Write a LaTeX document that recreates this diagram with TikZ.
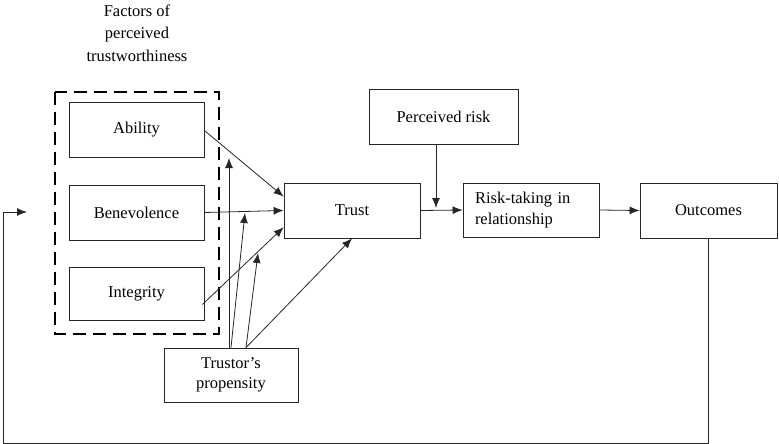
\documentclass[tikz,border=0pt]{standalone}
\usepackage{fontspec}
\setmainfont{Liberation Serif}
\usetikzlibrary{calc,arrows.meta,positioning}

\begin{document}
\begin{tikzpicture}[x=1pt,y=-1pt,
    box/.style={draw=black!85,line width=0.8pt,minimum width=135pt,minimum height=55pt,
      inner sep=2pt,font=\fontsize{16.5}{20.5}\selectfont},
    arr/.style={draw=black!85,line width=0.8pt,-{Latex[length=10pt,width=8pt]}}]
    \useasboundingbox (0,0) rectangle (779,444);
    \node[align=center,font=\fontsize{16.5}{22.5}\selectfont] (title) at (137,33)
      {Factors of\\perceived\\trustworthiness};
    \node[box] (abil) at (136.5,129.5) {Ability};
    \node[box] (benev) at (136.5,212.5) {Benevolence};
    \node[box,minimum height=53pt] (integ) at (136.5,293.5) {Integrity};
    \node[box,minimum width=136pt] (trust) at (352,210.5) {Trust};
    \node[box,minimum width=149pt] (prisk) at (443.5,116.5) {Perceived risk};
    \node[box,minimum width=136pt,minimum height=54pt,text width=112pt,align=left] (risk)
      at (531,210) {Risk-taking in\\relationship};
    \node[box,minimum width=137pt] (outc) at (708.5,210.5) {Outcomes};
    \node[box,minimum width=134pt,minimum height=54pt,align=center] (prop) at (231,375)
      {Trustor's\\propensity};
    \draw[line width=2.6pt,dash pattern=on 13pt off 7pt] (55,92) rectangle (219,334);
    \coordinate (p1) at (229,158);
    \coordinate (p2) at (245,213);
    \coordinate (p3) at (258,253);
    \coordinate (pr) at (436,208);
    \coordinate (fb) at (27,212);
    \draw[arr] ($(abil.east)+(0,1)$) -- ($(trust.north west)!0.25!(trust.south west)$);
    \draw[arr] (benev.east) -- (trust.west);
    \draw[arr] ($(integ.east)+(-2,11)$) -- ($(trust.north west)!0.8!(trust.south west)$);
    \draw[arr] ($(prop.north)+(-2,0)$) -- (p1);
    \draw[arr] (prop.north) -- (p2);
    \draw[arr] ($(prop.north)+(15,0)$) -- (p3);
    \draw[arr] ($(prop.north)+(15,0)$) -- (trust.south);
    \draw[arr] (trust.east) -- (risk.west);
    \draw[arr] (prisk.south -| pr) -- (pr);
    \draw[arr] (risk.east) -- (outc.west);
    \draw[arr] (outc.south) |- (3,443) |- (fb);
\end{tikzpicture}
\end{document}
